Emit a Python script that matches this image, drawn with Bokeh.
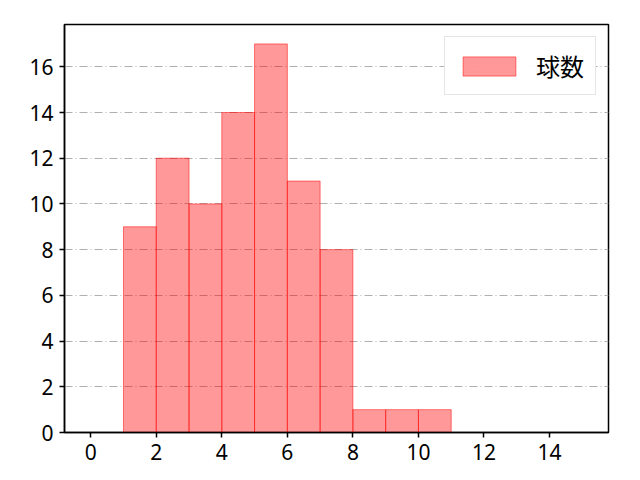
from bokeh.plotting import figure
from bokeh.models import Range1d, FixedTicker, Legend, LegendItem
from bokeh.embed import file_html
from bokeh.resources import INLINE

bin_left = [1, 2, 3, 4, 5, 6, 7, 8, 9, 10]
bin_right = [2, 3, 4, 5, 6, 7, 8, 9, 10, 11]
counts = [9, 12, 10, 14, 17, 11, 8, 1, 1, 1]
x_ticks = [0, 2, 4, 6, 8, 10, 12, 14]
y_ticks = [0, 2, 4, 6, 8, 10, 12, 14, 16]
label = "球数"

p = figure(width=624, height=464, output_backend="svg", toolbar_location=None,
           x_range=Range1d(-0.8, 15.8), y_range=Range1d(0, 17.85),
           min_border_left=64, min_border_right=16, min_border_top=24, min_border_bottom=32)

r = p.quad(left=bin_left, right=bin_right, bottom=0, top=counts,
           fill_color="#ff0000", fill_alpha=0.4, line_color="#ff0000", line_alpha=0.5, line_width=1)

p.xgrid.visible = False
p.ygrid.ticker = FixedTicker(ticks=y_ticks)
p.ygrid.grid_line_color = "#b0b0b0"
p.ygrid.grid_line_dash = "8 3 1 3"
p.ygrid.grid_line_width = 1
p.ygrid.level = "underlay"

for ax, ticks in ((p.xaxis, x_ticks), (p.yaxis, y_ticks)):
    ax.ticker = FixedTicker(ticks=ticks)
    ax.major_label_text_font = "Noto Sans"
    ax.major_label_text_font_size = "21px"
    ax.major_label_text_color = "#000000"
    ax.axis_line_color = "#000000"
    ax.axis_line_width = 1.5
    ax.major_tick_line_color = "#000000"
    ax.major_tick_line_width = 1.5
    ax.major_tick_out = 5
    ax.major_tick_in = 0
    ax.minor_tick_line_color = None
p.xaxis.major_label_standoff = 6
p.yaxis.major_label_standoff = 6

p.outline_line_color = "#000000"
p.outline_line_width = 1.5
p.outline_line_alpha = 1

legend = Legend(items=[LegendItem(label=label, renderers=[r])], location="top_right")
legend.glyph_width = 66
legend.glyph_height = 24
legend.label_text_font = "Noto Sans CJK JP"
legend.label_text_font_size = "24px"
legend.label_text_color = "#000000"
legend.label_standoff = 14
legend.border_line_color = "#cccccc"
legend.border_line_width = 1
legend.padding = 11
legend.margin = 12
legend.spacing = 0
p.add_layout(legend)

open("out.html", "w").write(file_html(p, INLINE))
